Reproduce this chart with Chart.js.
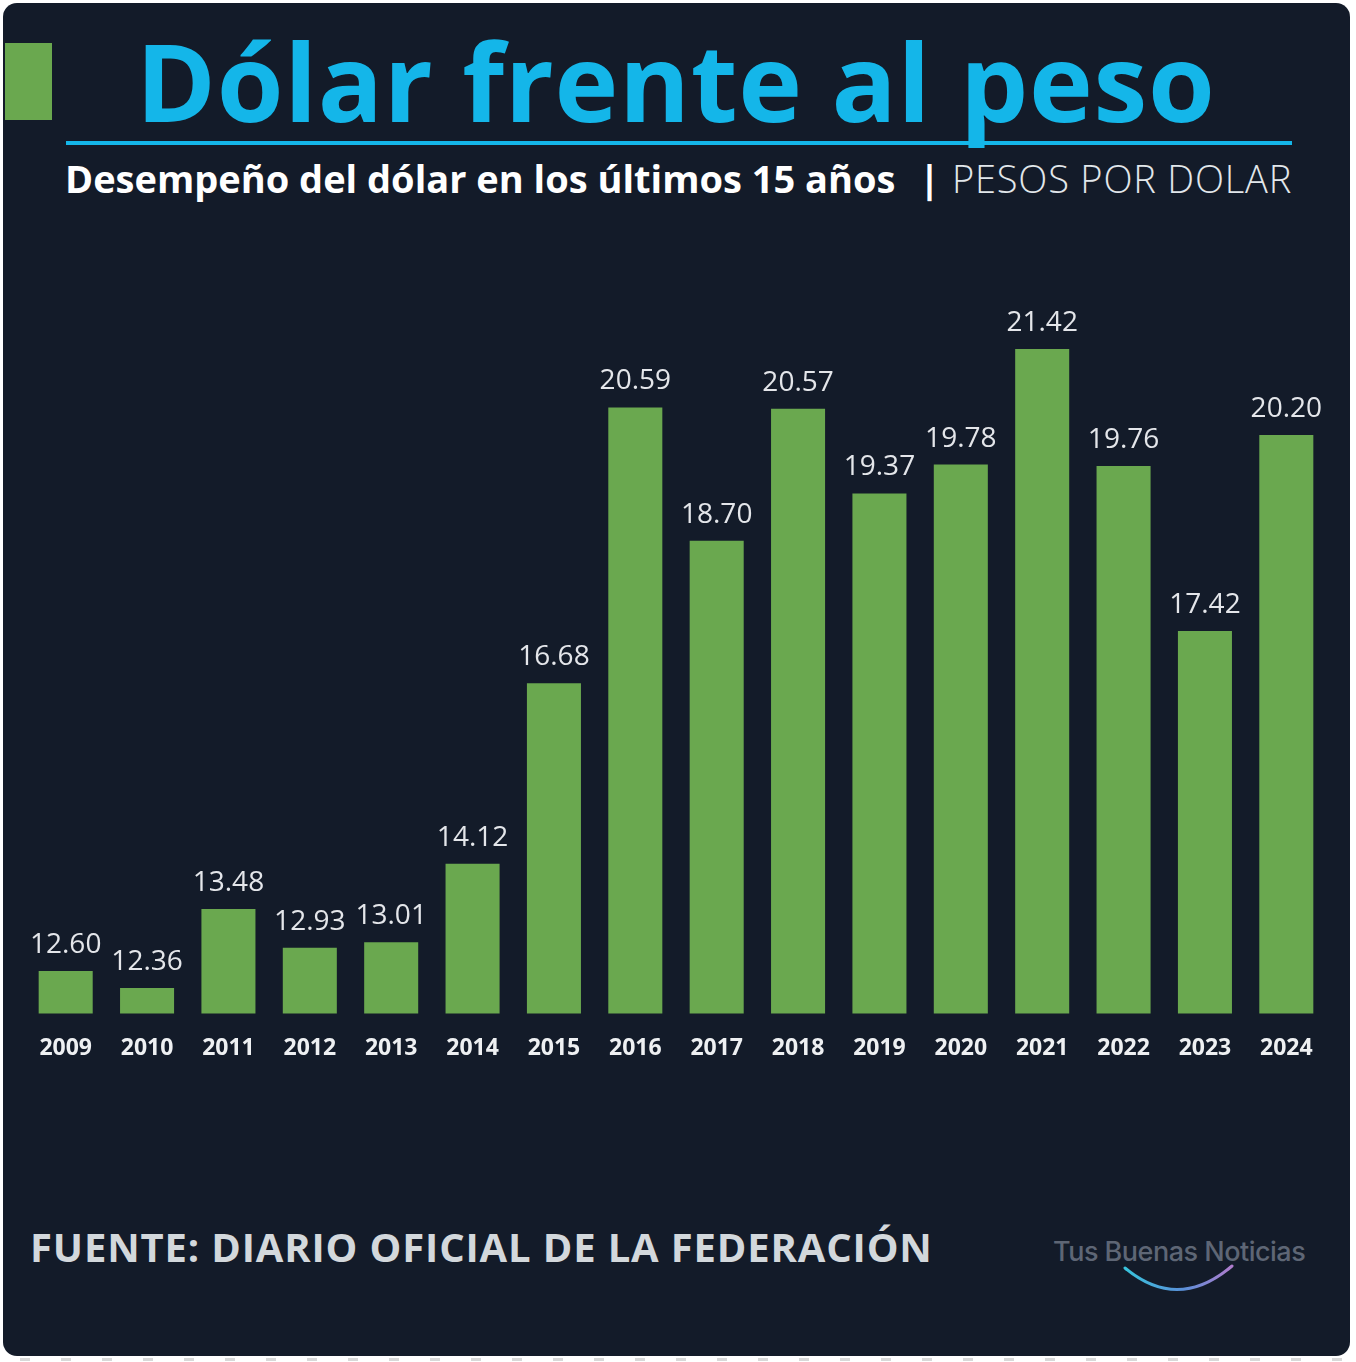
<!DOCTYPE html>
<html>
<head>
<meta charset="utf-8">
<script src="https://cdn.jsdelivr.net/npm/chart.js@4.4.1/dist/chart.umd.min.js"></script>
<style>
  html, body { margin:0; padding:0; background:#ffffff; width:1356px; height:1362px; overflow:hidden; }
  #card { position:absolute; left:3px; top:3px; width:1347px; height:1353px; background:#131b29; border-radius:14px; }
  .t { position:absolute; white-space:nowrap; line-height:1; font-family:"Open Sans", sans-serif; }
  #sq { position:absolute; left:5px; top:43px; width:47px; height:77px; background:#6aa84f; }
  #title { left:136px; top:27px; font-size:108px; font-weight:700; color:#14b6e9; letter-spacing:0.7px; }
  #rule { position:absolute; left:66px; top:141px; width:1226px; height:4px; background:#14b6e9; }
  #sub { left:65px; top:159px; font-size:38px; font-weight:700; color:#ffffff; letter-spacing:0px; }
  #bar { left:919px; top:159px; font-size:38px; font-weight:700; color:#ffffff; }
  #unit { left:952px; top:159px; font-size:38px; font-weight:300; color:#e2e7eb; letter-spacing:0.8px; }
  #src { left:30px; top:1227px; font-size:40px; font-weight:700; color:#d3d8dc; letter-spacing:0.85px; }
  #logo { left:1053px; top:1238px; font-size:27px; font-weight:500; color:#5e6675; letter-spacing:-0.5px; font-family:"Inter", sans-serif; }
  #wrap { position:absolute; left:0; top:230px; width:1356px; height:890px; }
  #dots { position:absolute; left:0; top:1358px; width:1356px; height:3px;
          background:repeating-linear-gradient(90deg, transparent 0 20px, #d8d8d8 20px 30px, transparent 30px 41px); }
</style>
</head>
<body>
<div id="card"></div>
<div id="sq"></div>
<div class="t" id="title">Dólar frente al peso</div>
<div id="rule"></div>
<div class="t" id="sub">Desempeño del dólar en los últimos 15 años</div>
<div class="t" id="bar">|</div>
<div class="t" id="unit">PESOS POR DOLAR</div>
<div id="wrap"><canvas id="c" width="1356" height="890"></canvas></div>
<div class="t" id="src">FUENTE: DIARIO OFICIAL DE LA FEDERACIÓN</div>
<div class="t" id="logo">Tus Buenas Noticias</div>
<svg style="position:absolute;left:0;top:0" width="1356" height="1362">
  <defs>
    <linearGradient id="g" x1="1125" y1="0" x2="1232" y2="0" gradientUnits="userSpaceOnUse">
      <stop offset="0" stop-color="#38c3dc"/>
      <stop offset="0.55" stop-color="#5b8fd8"/>
      <stop offset="1" stop-color="#b07ccc"/>
    </linearGradient>
  </defs>
  <path d="M1125 1268 Q1178 1312 1232 1266" stroke="url(#g)" stroke-width="3" fill="none" stroke-linecap="round"/>
</svg>
<div id="dots"></div>
<script>
const years = ["2009","2010","2011","2012","2013","2014","2015","2016","2017","2018","2019","2020","2021","2022","2023","2024"];
const pesosPorDolar = [12.60, 12.36, 13.48, 12.93, 13.01, 14.12, 16.68, 20.59, 18.70, 20.57, 19.37, 19.78, 21.42, 19.76, 17.42, 20.20];

const valueLabels = {
  id: 'valueLabels',
  afterDatasetsDraw(chart) {
    const ctx = chart.ctx;
    const meta = chart.getDatasetMeta(0);
    ctx.save();
    ctx.font = '400 28px "Open Sans"';
    ctx.fillStyle = '#e4e6ea';
    ctx.textAlign = 'center';
    ctx.textBaseline = 'middle';
    meta.data.forEach((bar, i) => {
      ctx.fillText(pesosPorDolar[i].toFixed(2), bar.x, bar.y - 26);
    });
    ctx.restore();
  }
};

new Chart(document.getElementById('c'), {
  type: 'bar',
  data: {
    labels: years,
    datasets: [{
      data: pesosPorDolar,
      backgroundColor: '#6aa84f',
      borderWidth: 0,
      barPercentage: 0.664,
      categoryPercentage: 1.0
    }]
  },
  options: {
    responsive: false,
    animation: false,
    devicePixelRatio: 1,
    layout: { padding: { left: 25, right: 29, top: 78, bottom: 37 } },
    plugins: { legend: { display: false }, tooltip: { enabled: false } },
    scales: {
      y: { display: false, min: 12, max: 22 },
      x: {
        grid: { display: false, drawTicks: false },
        border: { display: false },
        ticks: {
          color: '#eef0f2',
          padding: 21,
          font: { family: 'Open Sans', weight: 'bold', size: 23 },
          maxRotation: 0
        }
      }
    }
  },
  plugins: [valueLabels]
});
</script>
</body>
</html>
